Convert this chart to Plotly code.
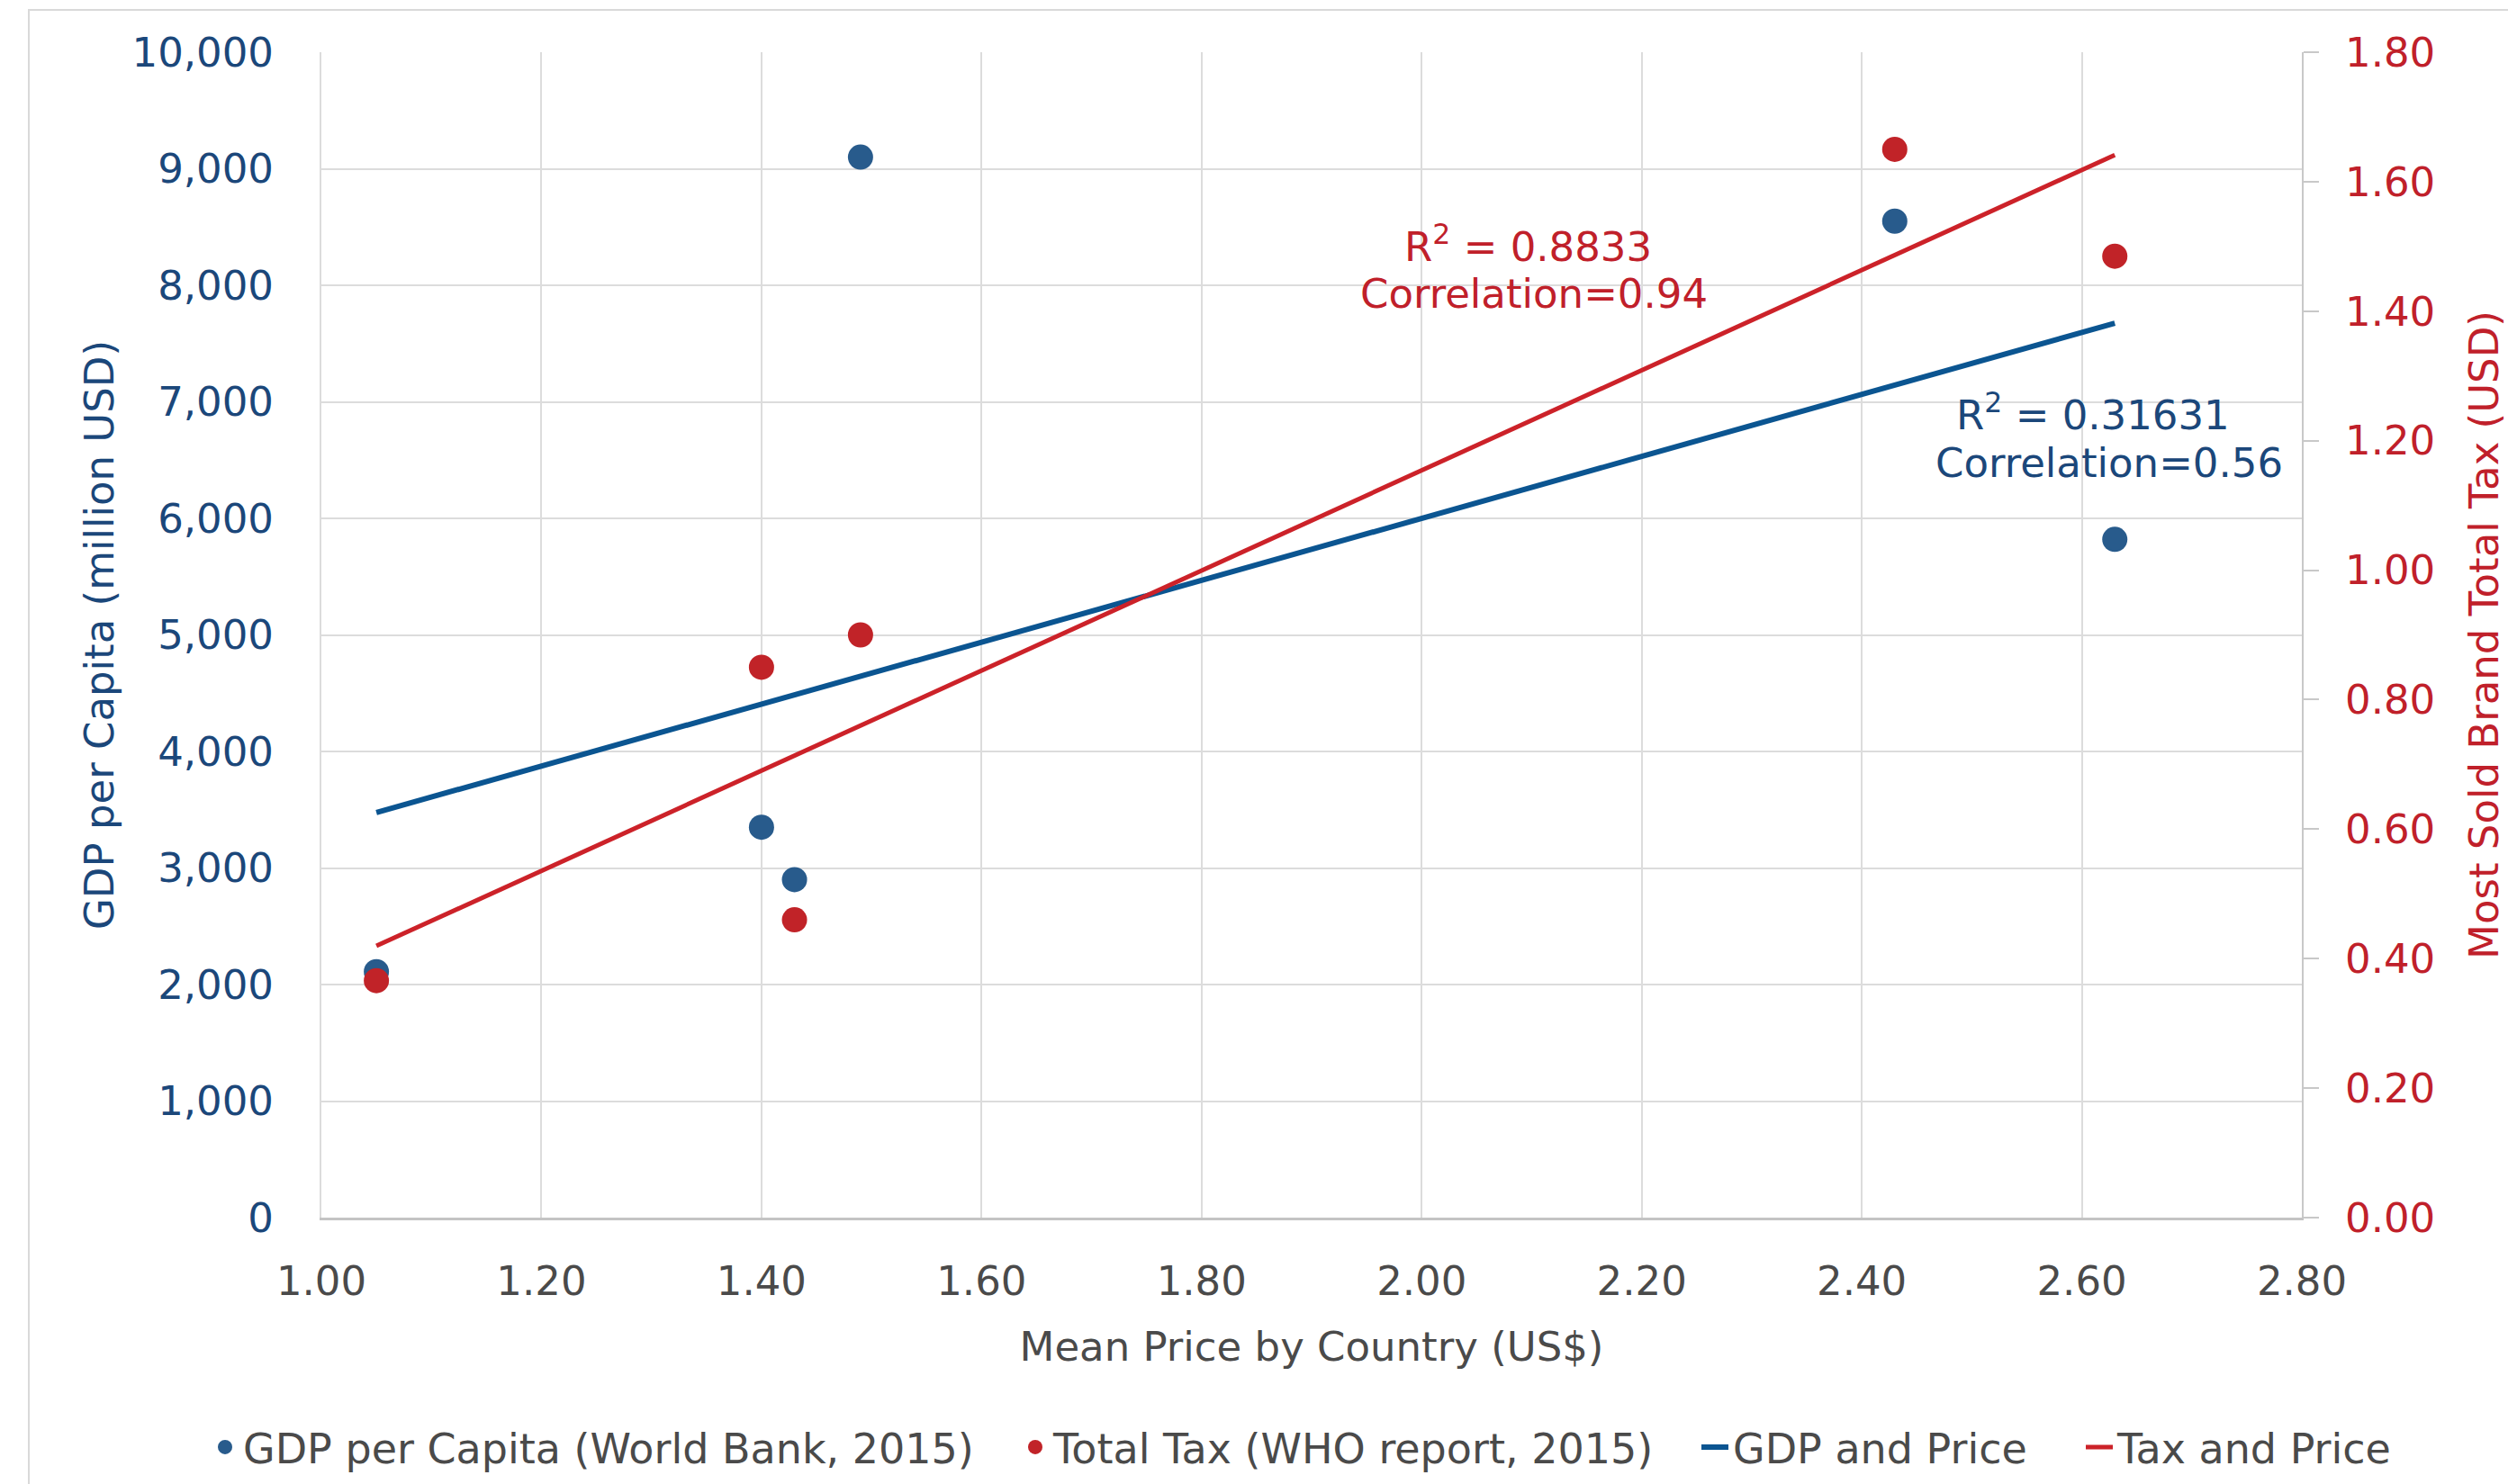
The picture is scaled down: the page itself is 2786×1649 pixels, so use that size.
import numpy as np
import plotly.graph_objects as go

# ---- data ----
mean_price = [1.05, 1.40, 1.43, 1.49, 2.43, 2.63]
gdp_per_capita = [2110, 3350, 2900, 9100, 8550, 5820]
total_tax = [0.366, 0.85, 0.46, 0.90, 1.65, 1.485]

x_ticks = [1.0, 1.2, 1.4, 1.6, 1.8, 2.0, 2.2, 2.4, 2.6, 2.8]
y_left_ticks = list(range(0, 10001, 1000))
y_right_ticks = [0.0, 0.2, 0.4, 0.6, 0.8, 1.0, 1.2, 1.4, 1.6, 1.8]

blue_text = "#1b477a"
red_text = "#c0202a"
blue_marker = "#285b8c"
red_marker = "#c12328"
blue_line = "#0b5591"
red_line = "#cc2229"
gray_text = "#4a4a4a"
grid = "#dcdcdc"
FONT = "DejaVu Sans"
FS = 45

W, H = 2786, 1649
L, R, T, B = 357, 229, 58, 296

pw = W - L - R
ph = H - T - B

def px_to_paper_x(px):
    return (px - L) / pw

def px_to_paper_y(py):
    return (H - B - py) / ph

# linear trend lines from the data
xs = np.array(mean_price)
xfit = np.array([min(mean_price), max(mean_price)])
pg = np.polyfit(xs, np.array(gdp_per_capita), 1)
pt = np.polyfit(xs, np.array(total_tax), 1)

fig = go.Figure()
fig.add_trace(go.Scatter(
    x=mean_price, y=gdp_per_capita, mode="markers",
    name="GDP per Capita (World Bank, 2015)", legend="legend",
    marker=dict(color=blue_marker, size=28)))
fig.add_trace(go.Scatter(
    x=mean_price, y=total_tax, mode="markers", yaxis="y2",
    name="Total Tax (WHO report, 2015)", legend="legend2",
    marker=dict(color=red_marker, size=28)))
fig.add_trace(go.Scatter(
    x=xfit, y=np.polyval(pg, xfit), mode="lines",
    name="GDP and Price", legend="legend3",
    line=dict(color=blue_line, width=6)))
fig.add_trace(go.Scatter(
    x=xfit, y=np.polyval(pt, xfit), mode="lines", yaxis="y2",
    name="Tax and Price", legend="legend4",
    line=dict(color=red_line, width=5)))

LEG_Y = px_to_paper_y(1608)

def leg(text_start_px):
    return dict(
        orientation="h", x=px_to_paper_x(text_start_px - 40), xanchor="left",
        y=LEG_Y, yanchor="middle",
        font=dict(family=FONT, size=FS + 1, color=gray_text),
        bgcolor="rgba(0,0,0,0)", borderwidth=0, itemwidth=30,
    )

fig.update_layout(
    width=W, height=H,
    margin=dict(l=L, r=R, t=T, b=B, pad=0, autoexpand=False),
    paper_bgcolor="white", plot_bgcolor="white",
    font=dict(family=FONT, size=FS, color=gray_text),
    xaxis=dict(
        range=[1.0, 2.8], tickvals=x_ticks, tickformat=".2f",
        showgrid=True, gridcolor=grid, gridwidth=2, automargin=False,
        zeroline=False, showline=True, linecolor="#c4c4c4", linewidth=3,
        ticks="", ticklabelstandoff=29,
        tickfont=dict(family=FONT, size=FS, color=gray_text),
        title=dict(text="Mean Price by Country (US$)",
                   font=dict(family=FONT, size=FS, color=gray_text),
                   standoff=32),
    ),
    yaxis=dict(
        range=[0, 10000], tickvals=y_left_ticks, tickformat=",",
        showgrid=True, gridcolor=grid, gridwidth=2, automargin=False,
        zeroline=False, showline=True, linecolor=grid, linewidth=2,
        ticks="", ticklabelstandoff=42,
        tickfont=dict(family=FONT, size=FS, color=blue_text),
        title=dict(text="GDP per Capita (million USD)",
                   font=dict(family=FONT, size=FS, color=blue_text),
                   standoff=6),
    ),
    yaxis2=dict(
        range=[0, 1.8], tickvals=y_right_ticks, tickformat=".2f",
        overlaying="y", side="right", showgrid=False, automargin=False,
        zeroline=False, showline=True, linecolor="#c8c8c8", linewidth=2,
        ticks="outside", ticklen=17, tickcolor="#c8c8c8", tickwidth=2,
        ticklabelstandoff=20,
        tickfont=dict(family=FONT, size=FS, color=red_text),
        title=dict(text="Most Sold Brand Total Tax (USD)",
                   font=dict(family=FONT, size=FS, color=red_text),
                   standoff=48),
    ),
    legend=leg(270),
    legend2=leg(1170),
    legend3=leg(1925),
    legend4=leg(2352),
    showlegend=True,
    shapes=[dict(
        type="rect", xref="paper", yref="paper", layer="below",
        x0=px_to_paper_x(32), x1=px_to_paper_x(2800),
        y0=px_to_paper_y(1660), y1=px_to_paper_y(11),
        line=dict(color="#d9d9d9", width=2), fillcolor="rgba(0,0,0,0)",
    )],
    annotations=[
        dict(x=2.097, y=8353, xref="x", yref="y", showarrow=False,
             text="R<sup>2</sup> = 0.8833",
             font=dict(family=FONT, size=FS, color=red_text)),
        dict(x=2.102, y=7927, xref="x", yref="y", showarrow=False,
             text="Correlation=0.94",
             font=dict(family=FONT, size=FS, color=red_text)),
        dict(x=2.610, y=6906, xref="x", yref="y", showarrow=False,
             text="R<sup>2</sup> = 0.31631",
             font=dict(family=FONT, size=FS, color=blue_text)),
        dict(x=2.625, y=6473, xref="x", yref="y", showarrow=False,
             text="Correlation=0.56",
             font=dict(family=FONT, size=FS, color=blue_text)),
    ],
)

fig.write_html("out.html", config=dict(displayModeBar=False),
               post_script="document.body.style.margin='0';document.body.style.overflow='hidden';")
